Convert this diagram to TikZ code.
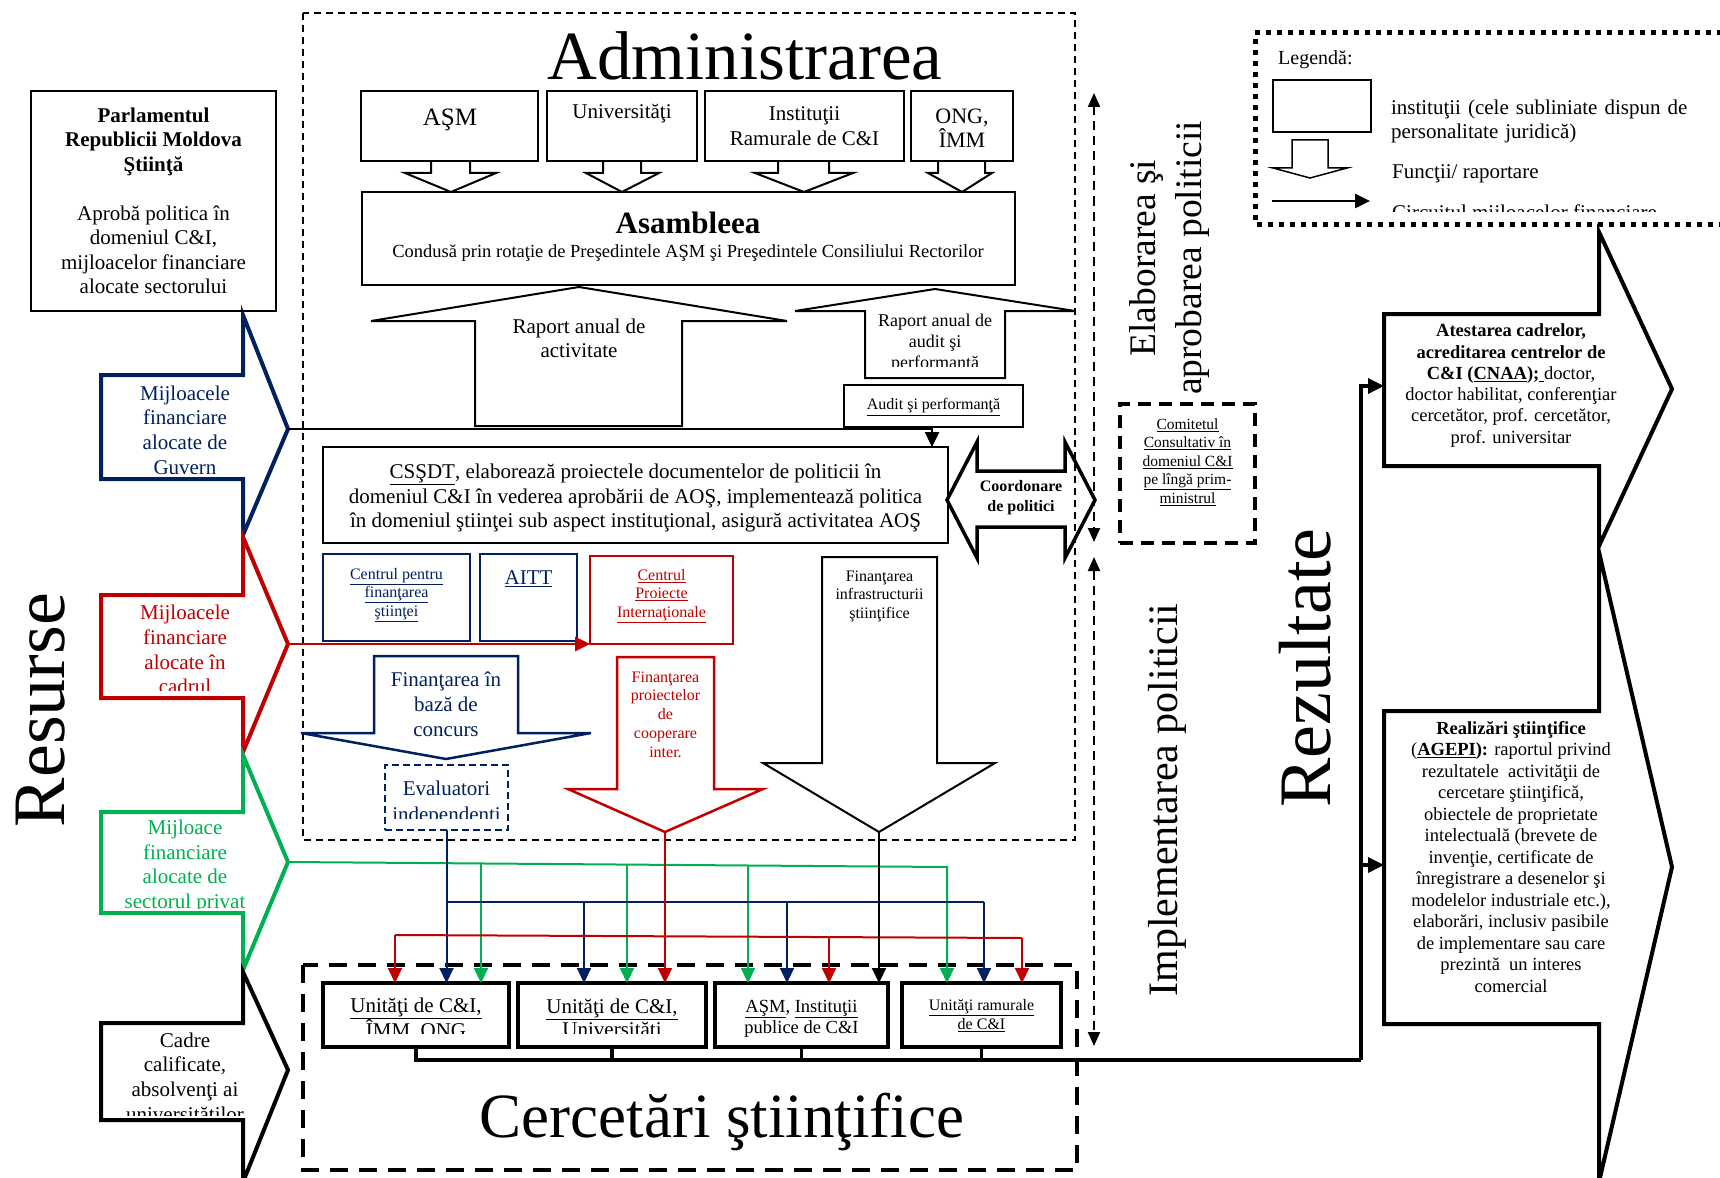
\documentclass[tikz,border=0pt]{standalone}
\usepackage{fontspec}
\setmainfont{Liberation Serif}
\usetikzlibrary{arrows.meta}
\definecolor{nblue}{HTML}{002060}
\definecolor{nred}{HTML}{C00000}
\definecolor{ngreen}{HTML}{00B050}
\newcommand{\fsz}[2]{\fontsize{#1}{#2}\selectfont}
\tikzset{
  bx/.style={draw, line width=2pt, inner sep=0pt, outer sep=0pt},
  ubx/.style={draw, line width=4.5pt, inner sep=0pt, outer sep=0pt},
  txt/.style={inner sep=0pt, align=center},
  arr/.style={-{Triangle[length=15pt,width=14pt]}},
  arrs/.style={-{Triangle[length=16pt,width=15pt]}},
  thin2/.style={line width=2pt},
  bigarrow/.style={line width=4pt, line join=miter},
  admdash/.style={line width=1.5pt, dash pattern=on 7pt off 5pt},
  cercdash/.style={line width=4pt, dash pattern=on 18pt off 11pt},
  vdash/.style={line width=2pt, dash pattern=on 9pt off 6pt, {Triangle[length=14pt,width=12pt]}-{Triangle[length=14pt,width=12pt]}},
}
\begin{document}
\begin{tikzpicture}[x=1pt,y=-1pt]
\useasboundingbox (0,0) rectangle (1720,1177);

% ---------- dashed frames ----------
\draw[admdash] (303,13) rectangle (1075,840);
\draw[cercdash] (303,965) rectangle (1077,1170);

% ---------- left resource arrows ----------
\draw[bigarrow, nblue] (101,375) -- (243,375) -- (243,315) -- (288,429) -- (243,535) -- (243,479) -- (101,479) -- cycle;
\draw[bigarrow, nred] (101,595) -- (243,595) -- (243,537) -- (288,644) -- (243,752) -- (243,698) -- (101,698) -- cycle;
\draw[bigarrow, ngreen] (101,812) -- (243,812) -- (243,755) -- (288,862) -- (243,970) -- (243,913) -- (101,913) -- cycle;
\draw[bigarrow, black] (101,1023) -- (243,1023) -- (243,972) -- (288,1070) -- (243,1182) -- (243,1120) -- (101,1120) -- cycle;

\node[txt, nblue, font={\fsz{21}{24.7}}] (tguv) at (185,430) {Mijloacele\\financiare\\alocate de\\Guvern};
\begin{scope}
\clip (101,595) rectangle (288,690);
\node[txt, nred, font={\fsz{21}{24.7}}] (tcad) at (185,649.5) {Mijloacele\\financiare\\alocate în\\cadrul};
\end{scope}
\begin{scope}
\clip (101,812) rectangle (288,908);
\node[txt, ngreen, font={\fsz{21}{24.7}}] (tpriv) at (185,866.5) {Mijloace\\financiare\\alocate de\\sectorul privat};
\end{scope}
\begin{scope}
\clip (101,1023) rectangle (288,1115);
\node[txt, font={\fsz{21}{24.7}}] (tcadre) at (185,1079) {Cadre\\calificate,\\absolvenţi ai\\universităţilor};
\end{scope}

\node[txt, rotate=90, font={\fsz{74}{80}}] (tres) at (41,710) {Resurse};

% ---------- Parlamentul ----------
\node[bx, minimum width=245pt, minimum height=220pt] (parl) at (153.5,201) {};
\node[txt, font={\fsz{21}{24.5}}] (tparl) at (153.5,201) {\textbf{Parlamentul}\\\textbf{Republicii Moldova}\\\textbf{Ştiinţă}\\[24.5pt]Aprobă politica în\\domeniul C\&I,\\mijloacelor financiare\\alocate sectorului};

% ---------- Administrarea ----------
\node[txt, anchor=base, font={\fsz{69}{75}}] (tadm) at (745,80) {Administrarea};

\node[bx, minimum width=177pt, minimum height=70pt] (asm) at (449.5,126) {};
\node[bx, minimum width=150pt, minimum height=70pt] (univ) at (622,126) {};
\node[bx, minimum width=199pt, minimum height=70pt] (inst) at (804.5,126) {};
\node[bx, minimum width=102pt, minimum height=70pt] (ong) at (962,126) {};
\draw[thin2] (431,161) -- (431,173) -- (405,173) -- (451,192) -- (496,173) -- (470,173) -- (470,161);
\draw[thin2] (603,161) -- (603,173) -- (586,173) -- (622,192) -- (659,173) -- (641,173) -- (641,161);
\draw[thin2] (778,161) -- (778,173) -- (755,173) -- (804,192) -- (853,173) -- (829,173) -- (829,161);
\draw[thin2] (938,161) -- (938,173) -- (928,173) -- (962,192) -- (992,173) -- (985,173) -- (985,161);
\node[txt, font={\fsz{25}{28}}] (tasm) at (450,120) {AŞM};
\node[txt, font={\fsz{21}{25}}] (tuniv) at (622,114) {Universităţi};
\node[txt, font={\fsz{21}{25}}] (tinst) at (804.5,126) {Instituţii\\Ramurale de C\&I};
\node[txt, font={\fsz{22}{24}}] (tong) at (962,128) {ONG,\\ÎMM};

\node[bx, minimum width=653pt, minimum height=93pt] (asamb) at (688.5,238.5) {};
\node[txt, font={\fsz{31}{34}\bfseries}] (tasb) at (688,223) {Asambleea};
\node[txt, font={\fsz{18.5}{22}}] (tcond) at (688,253) {Condusă prin rotaţie de Preşedintele AŞM şi Preşedintele Consiliului Rectorilor};

% report arrows
\draw[thin2] (475,426) -- (475,321) -- (371,321) -- (579,287) -- (787,321) -- (682,321) -- (682,426) -- cycle;
\node[txt, font={\fsz{21}{24}}] (traa) at (579,338) {Raport anual de\\activitate};
\draw[thin2] (865,378) -- (865,311) -- (795,311) -- (935,289) -- (1075,311) -- (1005,311) -- (1005,378) -- cycle;
\begin{scope}
\clip (865,311) rectangle (1005,366);
\node[txt, font={\fsz{18}{21}}] (trad) at (935,343) {Raport anual de\\audit şi\\performanţă};
\end{scope}
\node[bx, minimum width=179pt, minimum height=42pt] (audit) at (933.5,406) {};
\node[txt, font={\fsz{16}{19}}] (taud) at (933.5,407) {\underline{Audit şi performanţă}};

% CSSDT
\node[bx, minimum width=625pt, minimum height=96pt] (cssdt) at (635.5,495) {};
\node[txt, font={\fsz{21}{24.5}}] (tcss) at (635.5,498) {\underline{CSŞDT}, elaborează proiectele documentelor de politicii în\\domeniul C\&I în vederea aprobării de AOŞ, implementează politica\\în domeniul ştiinţei sub aspect instituţional, asigură activitatea AOŞ};

% centers
\node[bx, nblue, minimum width=147pt, minimum height=87pt] (cpf) at (396.5,597.5) {};
\node[txt, nblue, font={\fsz{16}{18.5}}] (tcpf) at (396.5,595) {\underline{Centrul pentru}\\\underline{finanţarea}\\\underline{ştiinţei}};
\node[bx, nblue, minimum width=97pt, minimum height=87pt] (aitt) at (528.5,597.5) {};
\node[txt, nblue, font={\fsz{21}{24}}] (taitt) at (528.5,579) {\underline{AITT}};
\node[bx, nred, minimum width=143pt, minimum height=88pt] (cpi) at (661.5,600) {};
\node[txt, nred, font={\fsz{16}{18.5}}] (tcpi) at (661.5,596) {\underline{Centrul}\\\underline{Proiecte}\\\underline{Internaţionale}};

% funding arrows
\draw[nblue, line width=2.5pt] (374,656) -- (518,656) -- (518,733) -- (591,733) -- (446,759) -- (301,733) -- (374,733) -- cycle;
\node[txt, nblue, font={\fsz{21}{25}}] (tconc) at (446,704) {Finanţarea în\\bază de\\concurs};
\node[draw, nblue, line width=2pt, dash pattern=on 7pt off 4pt, inner sep=0pt, outer sep=0pt, minimum width=123pt, minimum height=65pt] (eval) at (446.5,797.5) {};
\begin{scope}
\clip (385,765) rectangle (508,818);
\node[txt, nblue, font={\fsz{21}{26}}] (teval) at (446.5,803) {Evaluatori\\independenţi};
\end{scope}
\draw[nred, line width=2.5pt] (617,657) -- (714,657) -- (714,789) -- (763,789) -- (665,832) -- (568,789) -- (617,789) -- cycle;
\node[txt, nred, font={\fsz{16}{18.7}}] (tcoop) at (665.5,714.5) {Finanţarea\\proiectelor\\de\\cooperare\\inter.};
\draw[thin2] (822,557) -- (937,557) -- (937,763) -- (995,763) -- (879,832) -- (763,763) -- (822,763) -- cycle;
\node[txt, font={\fsz{16}{18.5}}] (tinfra) at (879.5,596) {Finanţarea\\infrastructurii\\ştiinţifice};

% coordination
\draw[line width=3.5pt] (947,500) -- (977,442) -- (977,471) -- (1065,471) -- (1065,442) -- (1095,500) -- (1065,558) -- (1065,527) -- (977,527) -- (977,558) -- cycle;
\node[txt, font={\fsz{16}{20}\bfseries}] (tcoord) at (1021,498) {Coordonare\\de politici};

% policy side
\coordinate (v1t) at (1094,93);
\coordinate (v1b) at (1094,542);
\coordinate (v2t) at (1094,557);
\coordinate (v2b) at (1094,1046);
\draw[vdash] (v1t) -- (v1b);
\draw[vdash] (v2t) -- (v2b);
\node[draw, line width=3.5pt, dash pattern=on 13pt off 8pt, inner sep=0pt, outer sep=0pt, minimum width=135pt, minimum height=139pt] (comit) at (1187.5,473.5) {};
\node[txt, font={\fsz{15.5}{18.5}}] (tcom) at (1187.5,462) {\underline{Comitetul}\\\underline{Consultativ în}\\\underline{domeniul C\&I}\\\underline{pe lîngă prim-}\\\underline{ministrul}};
\node[txt, rotate=90, font={\fsz{37.5}{46}}] (telab) at (1169,258) {Elaborarea şi\\aprobarea politicii};
\node[txt, rotate=90, font={\fsz{42}{46}}] (timpl) at (1167,800) {Implementarea politicii};
\node[txt, rotate=90, font={\fsz{74}{80}}] (trez) at (1305,668) {Rezultate};

% ---------- research units ----------
\node[ubx, minimum width=186pt, minimum height=64pt] (u1) at (416,1015) {};
\node[ubx, minimum width=188pt, minimum height=64pt] (u2) at (612,1015) {};
\node[ubx, minimum width=173pt, minimum height=64pt] (u3) at (801.5,1015) {};
\node[ubx, minimum width=159pt, minimum height=64pt] (u4) at (981.5,1015) {};
\begin{scope}
\clip (323,983) rectangle (706,1033.5);
\node[txt, font={\fsz{21}{23}}] (tu1) at (416,1019.5) {\underline{Unităţi de C\&I,}\\ÎMM, ONG};
\node[txt, font={\fsz{21}{23}}] (tu2) at (612,1019.5) {\underline{Unităţi de C\&I,}\\Universităţi};
\end{scope}
\node[txt, font={\fsz{18.5}{21}}] (tu3) at (801.5,1018.5) {\underline{AŞM}, \underline{Instituţii}\\publice de C\&I};
\node[txt, font={\fsz{16}{19}}] (tu4) at (981.5,1015.5) {\underline{Unităţi ramurale}\\\underline{de C\&I}};
\node[txt, anchor=base, font={\fsz{63}{70}}] (tcerc) at (722,1137) {Cercetări ştiinţifice};

% ---------- connectors ----------
\coordinate (bluetip) at (288,429);
\coordinate (redtip) at (288,644);
\coordinate (greentip) at (288,862);
\draw[line width=2.5pt, arr] (bluetip) -| ([xshift=-16pt]cssdt.north east);
\draw[nred, line width=2.5pt, arr] (redtip) -- (redtip -| cpi.west);

\coordinate (gcorner) at (947,867);
\coordinate (g1) at (481,863.5);
\coordinate (g2) at (627,864.6);
\coordinate (g3) at (748,865.5);
\draw[ngreen, thin2, arr] (greentip) -- (gcorner) -- (gcorner |- u4.north);
\draw[ngreen, thin2, arr] (g1) -- (g1 |- u1.north);
\draw[ngreen, thin2, arr] (g2) -- (g2 |- u2.north);
\draw[ngreen, thin2, arr] (g3) -- (g3 |- u3.north);

\coordinate (bj) at (446.5,902);
\coordinate (b2) at (584,902);
\coordinate (b3) at (787,902);
\coordinate (b4) at (984,902);
\draw[nblue, thin2, arr] (eval.south) -- (eval.south |- u1.north);
\draw[nblue, thin2] (bj) -- (b4);
\draw[nblue, thin2, arr] (b2) -- (b2 |- u2.north);
\draw[nblue, thin2, arr] (b3) -- (b3 |- u3.north);
\draw[nblue, thin2, arr] (b4) -- (b4 |- u4.north);

\coordinate (cooptip) at (665,832);
\coordinate (r1) at (395,935);
\coordinate (r3) at (829,937);
\coordinate (r4) at (1022,938);
\draw[nred, thin2, arr] (cooptip) -- (cooptip |- u2.north);
\draw[nred, thin2] (r1) -- (r4);
\draw[nred, thin2, arr] (r1) -- (r1 |- u1.north);
\draw[nred, thin2, arr] (r3) -- (r3 |- u3.north);
\draw[nred, thin2, arr] (r4) -- (r4 |- u4.north);

\coordinate (infratip) at (879,832);
\draw[thin2, arr] (infratip) -- (infratip |- u3.north);

\coordinate (busR) at (1361,1060);
\coordinate (atin) at (1384,386);
\coordinate (rein) at (1384,865);
\draw[line width=3.5pt] (u1.south) |- (busR);
\draw[line width=3.5pt] (u2.south) -- (u2.south |- busR);
\draw[line width=3.5pt] (u3.south) -- (u3.south |- busR);
\draw[line width=3.5pt] (u4.south) -- (u4.south |- busR);
\draw[line width=3.5pt, arrs] (busR) |- (atin);
\draw[line width=3.5pt, arrs] (busR |- rein) -- (rein);

% ---------- results arrows ----------
\draw[bigarrow] (1384,314) -- (1599,314) -- (1599,232) -- (1672,389) -- (1599,546) -- (1599,466) -- (1384,466) -- cycle;
\draw[bigarrow] (1384,711) -- (1599,711) -- (1599,552) -- (1672,867) -- (1599,1182) -- (1599,1024) -- (1384,1024) -- cycle;
\node[txt, font={\fsz{18.5}{21.3}}] (tatest) at (1511,385.5) {\textbf{Atestarea cadrelor,}\\\textbf{acreditarea centrelor de}\\\textbf{C\&I (\underline{CNAA});}\underline{\ }doctor,\\doctor habilitat, conferenţiar\\cercetător, prof. cercetător,\\prof. universitar};
\node[txt, font={\fsz{18.5}{21.5}}] (treal) at (1511,857) {\textbf{Realizări ştiinţifice}\\(\textbf{\underline{AGEPI}):} raportul privind\\rezultatele\ \ activităţii de\\cercetare ştiinţifică,\\obiectele de proprietate\\intelectuală (brevete de\\invenţie, certificate de\\înregistrare a desenelor şi\\modelelor industriale etc.),\\elaborări, inclusiv pasibile\\de implementare sau care\\prezintă\ \ un interes\\comercial};

% ---------- legend ----------
\draw[line width=5pt, dash pattern=on 5pt off 6pt] (1722,33) -- (1255,33) -- (1255,224) -- (1722,224);
\node[txt, anchor=west, font={\fsz{20}{24}}] (tleg) at (1278,60) {Legendă:};
\node[draw, line width=1.5pt, inner sep=0pt, minimum width=98pt, minimum height=52pt] (legbox) at (1322,106) {};
\draw[line width=1.5pt] (1292,140) -- (1292,168) -- (1273,168) -- (1310,178) -- (1347,168) -- (1328,168) -- (1328,140) -- cycle;
\coordinate (lega) at (1272,201);
\coordinate (legb) at (1370,201);
\draw[line width=2.5pt, arr] (lega) -- (legb);
\node[inner sep=0pt, text width=315pt, font={\fsz{21}{24}}] (tleg1) at (1548.5,121) {\noindent instituţii (cele subliniate dispun de\linebreak personalitate juridică)};
\node[txt, anchor=west, font={\fsz{21}{24}}] (tleg2) at (1392,174) {Funcţii/ raportare};
\begin{scope}
\clip (1380,190) rectangle (1720,211);
\node[txt, anchor=base west, font={\fsz{21}{24}}] (tleg3) at (1392,219.5) {Circuitul mijloacelor financiare};
\end{scope}
\end{tikzpicture}
\end{document}
